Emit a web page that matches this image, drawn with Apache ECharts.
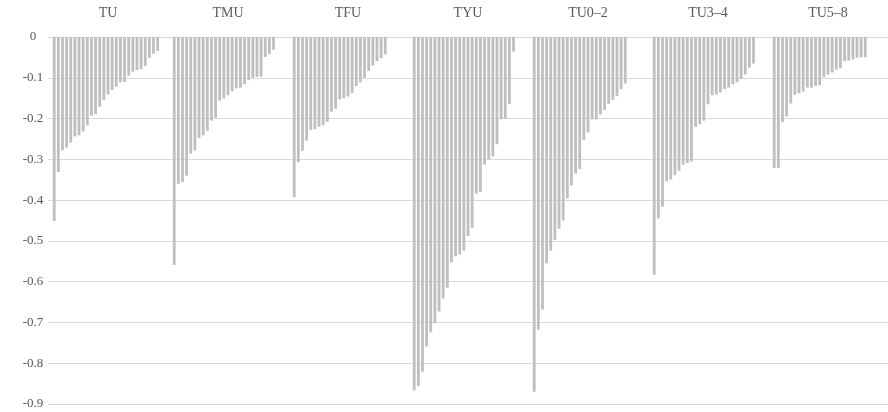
<!DOCTYPE html>
<html>
<head>
<meta charset="utf-8">
<script src="https://cdn.jsdelivr.net/npm/echarts@6/dist/echarts.min.js"></script>
<style>
  html, body { margin: 0; padding: 0; background: #ffffff; }
  #chart { width: 888px; height: 412px; }
</style>
</head>
<body>
<div id="chart"></div>
<script>
// Group names shown along the top
const groups = ['TU', 'TMU', 'TFU', 'TYU', 'TU0–2', 'TU3–4', 'TU5–8'];

// Values per group, sorted from most negative to least
const TU = [-0.451, -0.331, -0.278, -0.271, -0.259, -0.244, -0.241, -0.232, -0.217, -0.193, -0.189, -0.171, -0.154, -0.141, -0.130, -0.122, -0.111, -0.110, -0.095, -0.085, -0.081, -0.079, -0.071, -0.051, -0.041, -0.034];
const TMU = [-0.559, -0.360, -0.356, -0.340, -0.286, -0.278, -0.248, -0.241, -0.230, -0.205, -0.198, -0.156, -0.151, -0.143, -0.133, -0.126, -0.124, -0.116, -0.106, -0.100, -0.098, -0.097, -0.049, -0.042, -0.031];
const TFU = [-0.393, -0.307, -0.279, -0.254, -0.228, -0.226, -0.220, -0.216, -0.208, -0.183, -0.176, -0.153, -0.150, -0.146, -0.137, -0.120, -0.111, -0.100, -0.083, -0.070, -0.059, -0.052, -0.043];
const TYU = [-0.867, -0.856, -0.821, -0.759, -0.724, -0.702, -0.673, -0.641, -0.615, -0.553, -0.538, -0.533, -0.524, -0.488, -0.468, -0.384, -0.380, -0.313, -0.300, -0.293, -0.263, -0.202, -0.200, -0.164, -0.036];
const TU0_2 = [-0.870, -0.718, -0.668, -0.555, -0.524, -0.498, -0.470, -0.450, -0.396, -0.364, -0.335, -0.324, -0.252, -0.234, -0.202, -0.202, -0.190, -0.179, -0.164, -0.154, -0.145, -0.128, -0.114];
const TU3_4 = [-0.583, -0.445, -0.416, -0.354, -0.350, -0.339, -0.328, -0.313, -0.309, -0.305, -0.220, -0.214, -0.205, -0.165, -0.143, -0.141, -0.136, -0.128, -0.124, -0.116, -0.111, -0.103, -0.092, -0.075, -0.065];
const TU5_8 = [-0.321, -0.321, -0.209, -0.195, -0.163, -0.142, -0.138, -0.134, -0.124, -0.124, -0.120, -0.118, -0.099, -0.092, -0.087, -0.080, -0.077, -0.059, -0.058, -0.055, -0.051, -0.050, -0.050];

// Y axis range
const yMin = -0.9, yMax = 0, yStep = 0.1;

// Each group gets the same number of slots: one empty lead slot, then its bars, then padding
const SLOTS = 29;
const groupValues = [TU, TMU, TFU, TYU, TU0_2, TU3_4, TU5_8];
const slotData = [];
const slotCats = [];
groupValues.forEach((vals, g) => {
  for (let i = 0; i < SLOTS; i++) {
    const v = (i >= 1 && i - 1 < vals.length) ? vals[i - 1] : null;
    slotData.push(v);
    slotCats.push(groups[g] + '_' + i);
  }
});

const font = '"Liberation Serif", "Times New Roman", serif';
const chart = echarts.init(document.getElementById('chart'), null, { renderer: 'canvas' });
chart.setOption({
  animation: false,
  backgroundColor: '#ffffff',
  grid: { left: 48, right: 0, top: 37, bottom: 8, containLabel: false },
  xAxis: [
    {
      type: 'category',
      data: slotCats,
      position: 'bottom',
      boundaryGap: true,
      axisLine: { show: false },
      axisTick: { show: false },
      axisLabel: { show: false },
      splitLine: { show: false }
    },
    {
      type: 'category',
      data: groups,
      position: 'top',
      boundaryGap: true,
      axisLine: { show: false },
      axisTick: { show: false },
      axisLabel: { show: true, color: '#595959', fontFamily: font, fontSize: 14, margin: 17 },
      splitLine: { show: false }
    }
  ],
  yAxis: {
    type: 'value',
    min: yMin,
    max: yMax,
    interval: yStep,
    axisLine: { show: false },
    axisTick: { show: false },
    axisLabel: {
      color: '#595959', fontFamily: font, fontSize: 13, align: 'center', margin: 15,
      formatter: v => (Math.abs(v) < 1e-9 ? '0' : v.toFixed(1))
    },
    splitLine: { show: true, lineStyle: { color: '#d9d9d9', width: 1 } }
  },
  series: [
    {
      type: 'bar',
      xAxisIndex: 0,
      data: slotData,
      barWidth: '68%',
      itemStyle: { color: '#bfbfbf' },
      silent: true
    }
  ]
});
</script>
</body>
</html>
